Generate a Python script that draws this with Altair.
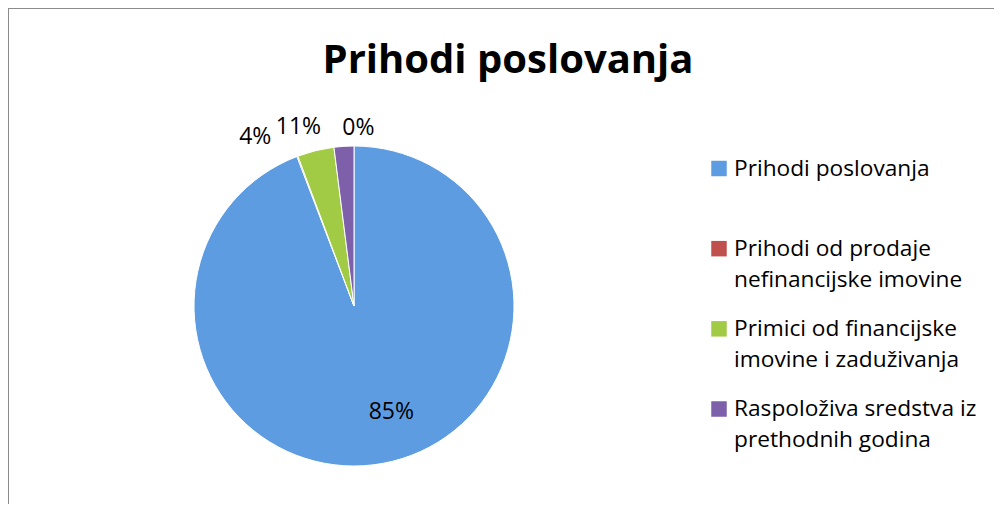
import altair as alt
import pandas as pd

# ---- data ----
categories = [
    "Prihodi poslovanja",
    "Prihodi od prodaje nefinancijske imovine",
    "Primici od financijske imovine i zaduživanja",
    "Raspoloživa sredstva iz prethodnih godina",
]
legend_line1 = ["Prihodi poslovanja", "Prihodi od prodaje", "Primici od financijske", "Raspoloživa sredstva iz"]
legend_line2 = ["", "nefinancijske imovine", "imovine i zaduživanja", "prethodnih godina"]
slice_values = [94.2, 0.1, 3.7, 2.0]          # visible slice sizes
slice_labels = ["85%", "4%", "11%", "0%"]     # data labels as printed
colors = ["#5E9CE2", "#C0504D", "#A2CB45", "#7D5FAA"]

df = pd.DataFrame({
    "cat": categories,
    "value": slice_values,
    "label": slice_labels,
    "l1": legend_line1,
    "l2": legend_line2,
    "order": list(range(len(categories))),
})

FONT = "Open Sans"
W, H = 986, 496
CX, CY, R = 346, 298, 160

color = alt.Color("cat:N", scale=alt.Scale(domain=categories, range=colors), legend=None)
theta = alt.Theta("value:Q", stack=True)
order = alt.Order("order:Q")

base = alt.Chart(df)

pie = base.mark_arc(radius=R, stroke="white", strokeWidth=1).encode(
    theta=theta, color=color, order=order,
    x=alt.value(CX), y=alt.value(CY),
)

def pie_label(idx, radius, dx, dy, align="center"):
    name = categories[idx]
    return base.transform_calculate(
        t=f"datum.cat === {name!r} ? datum.label : ''"
    ).mark_text(radius=radius, dx=dx, dy=dy, align=align, baseline="middle",
                font=FONT, fontSize=23, color="black").encode(
        theta=theta, order=order, text="t:N",
        x=alt.value(CX), y=alt.value(CY),
    )

labels = [
    pie_label(0, 112, 17, -4),
    pie_label(1, 186, -33, 5),
    pie_label(2, 186, -11, 2),
    pie_label(3, 186, 16, 8),
]

ypos = alt.Y("cat:N", scale=alt.Scale(type="point", domain=categories, range=[160.5, 401], padding=0), axis=None)

leg_sq = base.mark_square(size=240, opacity=1).encode(
    x=alt.value(711), y=ypos, color=color,
)
leg_t1 = base.mark_text(align="left", baseline="alphabetic", dy=7, font=FONT, fontSize=22.7, color="black").encode(
    x=alt.value(726), y=ypos, text="l1:N",
)
leg_t2 = base.mark_text(align="left", baseline="alphabetic", dy=38, font=FONT, fontSize=22.7, color="black").encode(
    x=alt.value(726), y=ypos, text="l2:N",
)

title = base.transform_filter("datum.order === 0").mark_text(
    align="center", baseline="alphabetic", font=FONT, fontSize=40, fontWeight="bold", color="black"
).encode(x=alt.value(500), y=alt.value(64.5), text=alt.value("Prihodi poslovanja"))

border_left = base.transform_filter("datum.order === 0").mark_rule(color="#8C8C8C", strokeWidth=2).encode(
    x=alt.value(0), y=alt.value(0), y2=alt.value(H))
border_top = base.transform_filter("datum.order === 0").mark_rule(color="#8C8C8C", strokeWidth=2).encode(
    x=alt.value(0), x2=alt.value(W), y=alt.value(0))

chart = alt.layer(border_left, border_top, title, pie, *labels, leg_sq, leg_t1, leg_t2).properties(
    width=W, height=H, padding=0, autosize=alt.AutoSizeParams(type="none"),
).configure_view(stroke=None).configure(background="white")

chart.save("out.html", embed_options={"renderer": "svg", "actions": False})
